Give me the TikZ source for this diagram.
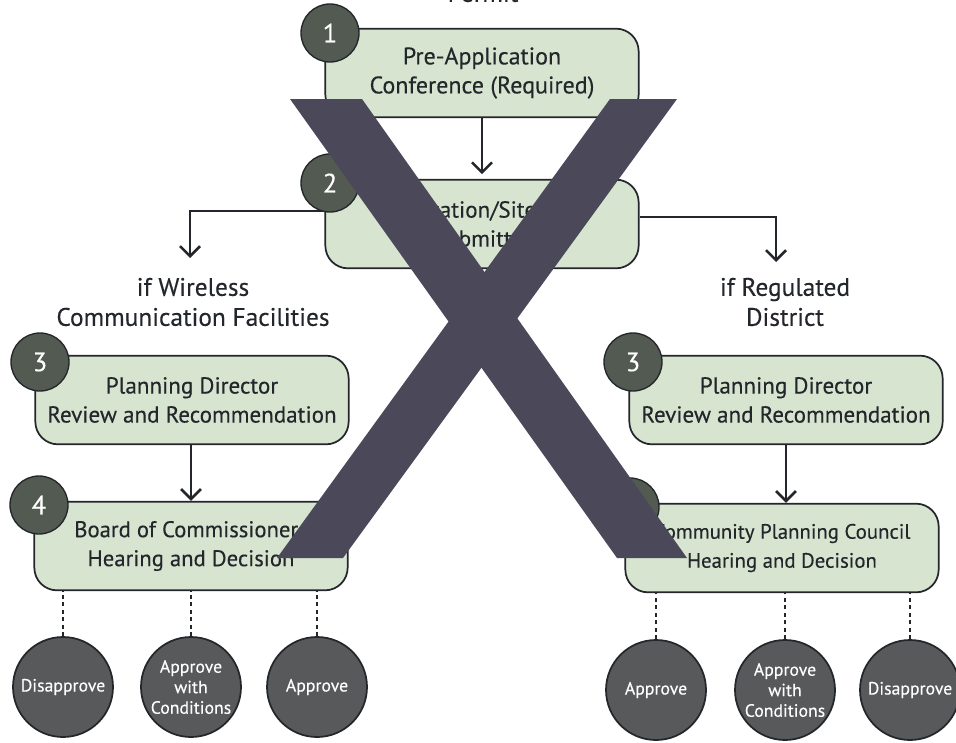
\documentclass[tikz,border=0pt]{standalone}
\usepackage{fontspec}
\setmainfont[FakeBold=0.25]{PT Sans}
\usetikzlibrary{arrows.meta}
\definecolor{boxgreen}{HTML}{D6E4D0}
\definecolor{badge}{HTML}{525A52}
\definecolor{outcome}{HTML}{57595A}
\definecolor{cross}{HTML}{4B4859}
\definecolor{ink}{HTML}{23262A}
\tikzset{
  stepbox/.style={draw=ink,line width=1.3pt,fill=boxgreen,rounded corners=17pt,minimum width=235pt,minimum height=66.5pt,align=center,inner sep=0pt,text=ink,font=\fontsize{17.3}{21.75}\selectfont},
  badgecirc/.style={circle,draw=ink,line width=1pt,fill=badge,minimum size=43.5pt,inner sep=0pt,text=white,font=\fontsize{20}{22}\selectfont},
  outcomecirc/.style={circle,draw=ink,line width=1.3pt,fill=outcome,minimum size=75pt,inner sep=0pt,align=center,text=white,font=\fontsize{13.3}{15.4}\selectfont},
  lbl/.style={align=center,text=ink,inner sep=0pt,font=\fontsize{19}{22.5}\selectfont},
  arr/.style={draw=ink,line width=1.9pt,-{Straight Barb[length=7.5pt,width=15pt,line width=1.9pt]}},
  dots/.style={draw=ink,line width=1.9pt,dash pattern=on 3pt off 2.6pt},
  crossbar/.style={fill=cross,draw=none}
}
\begin{document}
\begin{tikzpicture}[x=0.75pt,y=-0.75pt]
\useasboundingbox (0,0) rectangle (956,742);
\clip (0,0) rectangle (956,742);
\fill[white] (0,0) rectangle (956,742);
% boxes
\node[stepbox,font=\fontsize{18}{21.75}\selectfont] (b1) at (482,73) {Pre-Application\\Conference (Required)};
\node[stepbox] (b2) at (482,224) {Application/Site Plan\\Submittal};
\node[stepbox] (b3l) at (192,400) {Planning Director\\Review and Recommendation};
\node[stepbox,font=\fontsize{17}{21.75}\selectfont] (b4l) at (191,546) {Board of Commissioners\\Hearing and Decision};
\node[stepbox] (b3r) at (786,400) {Planning Director\\Review and Recommendation};
\node[stepbox,font=\fontsize{15.6}{21.75}\selectfont] (b4r) at (782,548) {Community Planning Council\\Hearing and Decision};
% labels
\node[lbl] (top) at (483,-7) {Permit};
\node[lbl] (lw) at (193,302) {if Wireless\\Communication Facilities};
\node[lbl] (lr) at (785,302) {if Regulated\\District};
\coordinate (tl) at (190,258);
\coordinate (tr) at (776,262);
% outcomes
\node[outcomecirc] (o1) at (63,687) {Disapprove};
\node[outcomecirc] (o2) at (191,687) {Approve\\with\\Conditions};
\node[outcomecirc] (o3) at (317,687) {Approve};
\node[outcomecirc] (o4) at (656,690) {Approve};
\node[outcomecirc] (o5) at (785,690) {Approve\\with\\Conditions};
\node[outcomecirc] (o6) at (910,690) {Disapprove};
% connectors
\draw[arr] (b1.south) -- ([yshift=3.5pt]b2.north);
\draw[arr] ([yshift=9.75pt]b2.west) -| (tl);
\draw[arr] ([yshift=5.25pt]b2.east) -| (tr);
\draw[arr] (b4l.north |- b3l.south) -- (b4l.north);
\draw[arr] (b3r.south) -- (b3r.south |- b4r.north);
\foreach \o in {o1,o2,o3} \draw[dots] (\o.north) -- (\o.north |- b4l.south);
\foreach \o in {o4,o5,o6} \draw[dots] (\o.north) -- (\o.north |- b4r.south);
% badges
\node[badgecirc] (n1) at (330,33) {1};
\node[badgecirc] (n2) at (330,183) {2};
\node[badgecirc] (n3l) at (40,362) {3};
\node[badgecirc] (n4l) at (39,505) {4};
\node[badgecirc] (n3r) at (633,362) {3};
\node[badgecirc] (n4r) at (630,507) {4};
% cross
\fill[crossbar] (290,99) -- (362,99) -- (687,558) -- (617,558) -- cycle;
\fill[crossbar] (610,99) -- (677,99) -- (343,558) -- (277,558) -- cycle;
\end{tikzpicture}
\end{document}
